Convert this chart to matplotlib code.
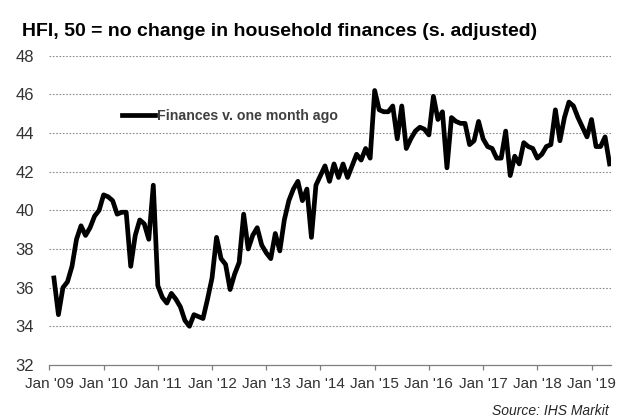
import numpy as np
import matplotlib.pyplot as plt

plt.rcParams['font.family'] = ['Liberation Sans', 'DejaVu Sans']

# monthly readings, Feb 2009 .. May 2019
hfi_2009 = [36.5, 34.6, 36.0, 36.3, 37.1, 38.5, 39.2, 38.7, 39.1, 39.7, 40.0]
hfi_2010 = [40.8, 40.7, 40.5, 39.8, 39.9, 39.9, 37.1, 38.7, 39.5, 39.3, 38.5, 41.3]
hfi_2011 = [36.1, 35.5, 35.2, 35.7, 35.4, 35.0, 34.3, 34.0, 34.6, 34.5, 34.4, 35.4]
hfi_2012 = [36.5, 38.6, 37.5, 37.2, 35.9, 36.7, 37.3, 39.8, 38.0, 38.7, 39.1, 38.2]
hfi_2013 = [37.8, 37.5, 38.8, 37.9, 39.5, 40.5, 41.1, 41.5, 40.5, 41.1, 38.6, 41.3]
hfi_2014 = [41.8, 42.3, 41.5, 42.4, 41.7, 42.4, 41.7, 42.3, 42.9, 42.6, 43.2, 42.7]
hfi_2015 = [46.2, 45.2, 45.1, 45.1, 45.4, 43.7, 45.4, 43.2, 43.7, 44.1, 44.3, 44.2]
hfi_2016 = [43.9, 45.9, 44.7, 45.1, 42.2, 44.8, 44.6, 44.5, 44.5, 43.4, 43.6, 44.6]
hfi_2017 = [43.7, 43.3, 43.2, 42.7, 42.7, 44.1, 41.8, 42.8, 42.4, 43.5, 43.3, 43.2]
hfi_2018 = [42.7, 42.9, 43.3, 43.4, 45.2, 43.6, 44.8, 45.6, 45.4, 44.8, 44.3, 43.8]
hfi_2019 = [44.7, 43.3, 43.3, 43.8, 42.4]

values = (hfi_2009 + hfi_2010 + hfi_2011 + hfi_2012 + hfi_2013 + hfi_2014
          + hfi_2015 + hfi_2016 + hfi_2017 + hfi_2018 + hfi_2019)
months = np.arange(1, len(values) + 1)  # months since Jan 2009

years = ['09', '10', '11', '12', '13', '14', '15', '16', '17', '18', '19']
tick_labels = ["Jan '" + y for y in years]
y_ticks = [32, 34, 36, 38, 40, 42, 44, 46, 48]

fig = plt.figure(figsize=(6.19, 4.19), dpi=100)
ax = fig.add_axes([0.0798, 0.1291, 0.9072, 0.7379])

ax.plot(months, values, color='black', linewidth=3.4, solid_joinstyle='round',
        label='Finances v. one month ago')

ax.set_xlim(0, 124.3)
ax.set_ylim(32, 48)
ax.set_yticks(y_ticks)
ax.set_yticklabels([str(v) for v in y_ticks], fontsize=12, color='#333333')
ax.set_xticks(np.arange(0, 12 * len(years), 12))
ax.set_xticklabels(tick_labels, fontsize=11, color='#333333')

for v in y_ticks[1:]:
    ax.axhline(v, color='#8c8c8c', linewidth=0.8, linestyle=(0, (1.5, 1.5)), zorder=0)

for side in ['top', 'right', 'left']:
    ax.spines[side].set_visible(False)
ax.spines['bottom'].set_color('#7f7f7f')
ax.spines['bottom'].set_linewidth(0.9)
ax.tick_params(axis='y', length=0, pad=11)
ax.tick_params(axis='x', length=3.5, width=0.9, color='#7f7f7f', pad=5)

ax.legend(loc='center left', bbox_to_anchor=(122 / 619, 1 - 116 / 419),
          bbox_transform=fig.transFigure, frameon=False, borderpad=0, borderaxespad=0,
          handlelength=2.3, handletextpad=0.2, labelcolor='#404040',
          prop={'weight': 'bold', 'size': 10.2})

fig.text(22 / 619, 1 - 31 / 419, 'HFI, 50 = no change in household finances (s. adjusted)',
         fontsize=14, fontweight='bold', ha='left', va='center')
fig.text(609 / 619, 1 - 411 / 419, 'Source: IHS Markit', fontsize=10, style='italic',
         ha='right', va='center', color='#262626')

fig.savefig('out.png', dpi=100)
